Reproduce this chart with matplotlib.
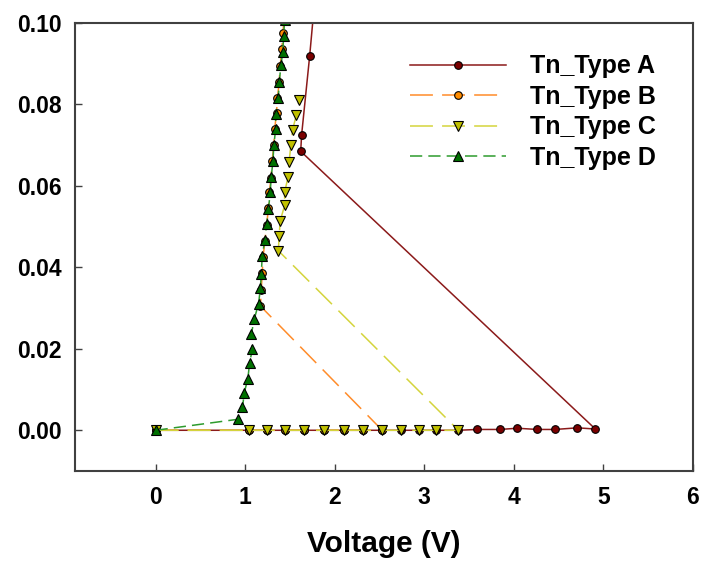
import matplotlib
matplotlib.use("Agg")
import matplotlib.pyplot as plt

# Shared low-current sweep voltages (current stays near zero)
v_base = [0.0, 1.04, 1.24, 1.44, 1.66, 1.88, 2.10, 2.31, 2.53, 2.74, 2.94, 3.13, 3.38]

# Tn_Type A
a_v = v_base + [3.59, 3.84, 4.04, 4.26, 4.46, 4.71, 4.91, 1.62, 1.63, 1.72, 1.77]
a_i = [0.0] * 13 + [0.0002, 0.0002, 0.0005, 0.0002, 0.0002, 0.0006, 0.0003,
                    0.0685, 0.0725, 0.0919, 0.104]

# Tn_Type B
b_v = v_base[:9] + [1.17, 1.18, 1.19, 1.20, 1.22, 1.24, 1.26, 1.27, 1.29, 1.30,
                    1.32, 1.33, 1.35, 1.36, 1.38, 1.39, 1.41, 1.42, 1.44]
b_i = [0.0] * 9 + [0.0305, 0.0345, 0.0385, 0.0425, 0.0465, 0.0505, 0.0545, 0.0585,
                   0.0620, 0.0660, 0.0700, 0.0740, 0.0780, 0.0815, 0.0855, 0.0895,
                   0.0935, 0.0975, 0.1020]

# Tn_Type C
c_v = v_base + [1.37, 1.38, 1.39, 1.44, 1.44, 1.48, 1.49, 1.51, 1.53, 1.57, 1.60]
c_i = [0.0] * 13 + [0.0441, 0.0478, 0.0513, 0.0552, 0.0584, 0.0623, 0.0658,
                    0.0700, 0.0738, 0.0773, 0.0811]

# Tn_Type D
d_v = [0.0, 0.92, 0.97, 0.99, 1.03, 1.05, 1.08, 1.07, 1.10, 1.15, 1.17, 1.18, 1.19,
       1.22, 1.24, 1.26, 1.28, 1.29, 1.31, 1.32, 1.34, 1.34, 1.37, 1.38, 1.40, 1.42,
       1.43, 1.44]
d_i = [0.0, 0.0027, 0.0056, 0.0092, 0.0127, 0.0166, 0.0199, 0.0237, 0.0272, 0.0311,
       0.0350, 0.0384, 0.0427, 0.0468, 0.0507, 0.0543, 0.0584, 0.0621, 0.0660,
       0.0700, 0.0739, 0.0776, 0.0815, 0.0854, 0.0897, 0.0930, 0.0969, 0.1008]

x_ticks = [0, 1, 2, 3, 4, 5, 6]
y_ticks = [0.00, 0.02, 0.04, 0.06, 0.08, 0.10]

plt.rcParams['font.family'] = ['Liberation Sans', 'DejaVu Sans']
plt.rcParams['font.weight'] = 'bold'

fig = plt.figure(figsize=(7.01, 5.61), dpi=100)
ax = fig.add_axes([75 / 701, 90 / 561, 618 / 701, 448 / 561])

ax.plot(a_v, a_i, color='#8B1A1A', lw=1.1, marker='o', ms=5.5,
        mfc='#7A0000', mec='black', mew=0.8, label='Tn_Type A')
ax.plot(b_v, b_i, color='#FF8C2A', lw=1.1, dashes=(15, 6), marker='o', ms=5.5,
        mfc='#FF8C00', mec='black', mew=0.8, label='Tn_Type B')
ax.plot(c_v, c_i, color='#D4D43C', lw=1.1, dashes=(15, 6), marker='v', ms=6.5,
        mfc='#C0C000', mec='black', mew=0.8, label='Tn_Type C')
ax.plot(d_v, d_i, color='#2E9B2E', lw=1.1, dashes=(8, 4), marker='^', ms=6.5,
        mfc='#007000', mec='black', mew=0.8, label='Tn_Type D')

ax.set_xlim(-0.9, 6)
ax.set_ylim(-0.01, 0.10)
ax.set_xticks(x_ticks)
ax.set_yticks(y_ticks)
ax.set_xticklabels([str(t) for t in x_ticks])
ax.set_yticklabels([f"{t:.2f}" for t in y_ticks])
ax.tick_params(direction='in', length=5, width=1, color='#404040', labelsize=16.5)
ax.tick_params(axis='x', pad=11)
ax.tick_params(axis='y', pad=9.5)
for lbl in ax.get_xticklabels() + ax.get_yticklabels():
    lbl.set_fontweight('bold')
for sp in ax.spines.values():
    sp.set_color('#404040')
    sp.set_linewidth(1.5)

ax.set_xlabel('Voltage (V)', fontsize=21.5, fontweight='bold', labelpad=15)

leg = ax.legend(loc='upper left', bbox_to_anchor=(0.542, 0.93), frameon=False,
                prop={'size': 18, 'weight': 'bold'}, handlelength=3.85,
                handletextpad=0.95, labelspacing=0.26, numpoints=1,
                borderpad=0, borderaxespad=0)

fig.savefig('out.png', dpi=100)
